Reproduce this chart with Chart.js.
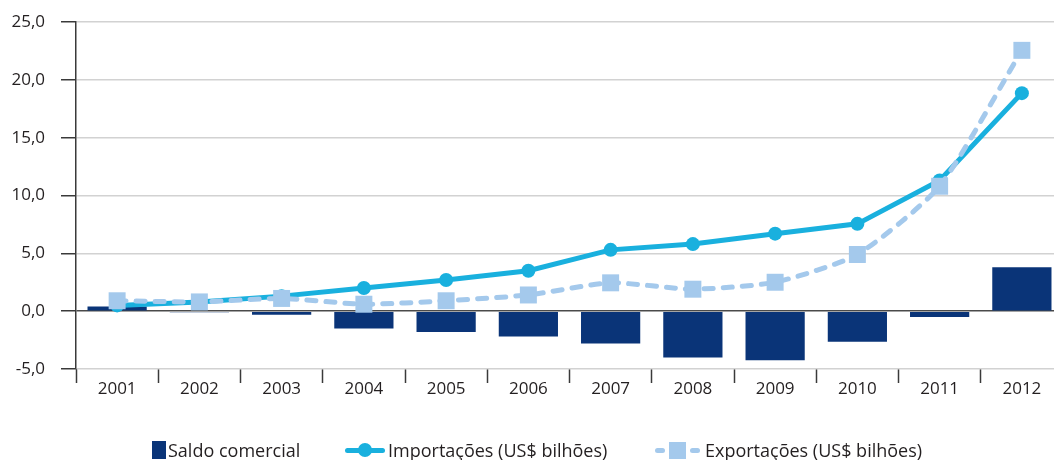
<!DOCTYPE html>
<html>
<head>
<meta charset="utf-8">
<script src="https://cdn.jsdelivr.net/npm/chart.js@4/dist/chart.umd.min.js"></script>
<style>
  body { margin: 0; overflow: hidden; background: #fff; font-family: "Open Sans", sans-serif; }
  #wrap { position: relative; width: 1054px; height: 460px; overflow: hidden; }
  #legend { position: absolute; top: 0; left: 0; width: 1054px; height: 460px; pointer-events: none; }
  .item { position: absolute; top: 439px; height: 22px; font-size: 18px; color: #231f20; line-height: 22px; white-space: nowrap; }
  .ico { position: absolute; }
</style>
</head>
<body>
<div id="wrap">
  <canvas id="myChart" width="1075" height="460"></canvas>
  <div id="legend">
    <div class="item" style="left:152px">
      <span class="ico" style="left:0;top:2px;width:14px;height:18px;background:#0a3478"></span>
      <span style="margin-left:16px">Saldo comercial</span>
    </div>
    <div class="item" style="left:345px">
      <span class="ico" style="left:0;top:9px;width:40px;height:5px;border-radius:3px;background:#19b0de"></span>
      <span class="ico" style="left:13px;top:4px;width:14px;height:14px;border-radius:50%;background:#19b0de"></span>
      <span style="margin-left:43px">Importações (US$ bilhões)</span>
    </div>
    <div class="item" style="left:655px">
      <span class="ico" style="left:0;top:9px;width:10px;height:5px;border-radius:3px;background:#a4c9ec"></span>
      <span class="ico" style="left:14px;top:3px;width:17px;height:17px;background:#a4c9ec"></span>
      <span class="ico" style="left:35px;top:9px;width:10px;height:5px;border-radius:3px;background:#a4c9ec"></span>
      <span style="margin-left:50px">Exportações (US$ bilhões)</span>
    </div>
  </div>
</div>
<script>
// categories and series
let years=['2001','2002','2003','2004','2005','2006','2007','2008','2009','2010','2011','2012'];
let saldo=[0.4,-0.1,-0.3,-1.5,-1.8,-2.2,-2.8,-4.0,-4.25,-2.65,-0.5,3.8];
let importacoes=[0.5,0.8,1.3,2.0,2.7,3.5,5.3,5.8,6.7,7.55,11.3,18.85];
let exportacoes=[0.9,0.8,1.1,0.6,0.9,1.4,2.45,1.9,2.5,4.9,10.8,22.55];
let yTicks=[-5,0,5,10,15,20,25];

const labelFont={family:'"Open Sans", sans-serif',size:17};
const textColor='#231f20';

window.onload=function(){
    drawChart();
}

function drawChart(){
    const ctx=document.getElementById('myChart');
    new Chart(ctx,{
        type:'bar',
        data:{
            labels:years,
            datasets:[
                {
                    label:'Saldo comercial',
                    data:saldo,
                    backgroundColor:'#0a3478',
                    borderWidth:0,
                    barPercentage:0.72,
                    categoryPercentage:1,
                    order:3
                },
                {
                    type:'line',
                    label:'Importações (US$ bilhões)',
                    data:importacoes,
                    borderColor:'#19b0de',
                    backgroundColor:'#19b0de',
                    borderWidth:5,
                    tension:0,
                    pointStyle:'circle',
                    pointRadius:7,
                    pointBorderWidth:0,
                    fill:false,
                    order:2
                },
                {
                    type:'line',
                    label:'Exportações (US$ bilhões)',
                    data:exportacoes,
                    borderColor:'#a4c9ec',
                    backgroundColor:'#a4c9ec',
                    borderWidth:5,
                    borderDash:[9,10],
                    borderCapStyle:'round',
                    tension:0.2,
                    pointStyle:'rect',
                    pointRadius:12,
                    pointBorderWidth:0,
                    fill:false,
                    order:1
                }
            ]
        },
        options:{
            responsive:false,
            animation:false,
            layout:{padding:{top:22,left:0,right:3,bottom:0}},
            plugins:{
                legend:{display:false},
                tooltip:{enabled:false}
            },
            scales:{
                x:{
                    afterFit:function(scale){scale.height=91;},
                    grid:{
                        display:true,
                        offset:true,
                        drawOnChartArea:false,
                        drawTicks:true,
                        tickLength:14,
                        tickColor:'#3a3a3a',
                        tickWidth:1.5
                    },
                    border:{display:false},
                    ticks:{font:labelFont,color:textColor,padding:-4,maxRotation:0}
                },
                y:{
                    min:-5,
                    max:25,
                    afterFit:function(scale){
                        scale.width=76;
                        scale.paddingTop=0;
                        scale.paddingBottom=0;
                    },
                    afterBuildTicks:function(scale){
                        scale.ticks=yTicks.map(function(v){return {value:v};});
                    },
                    grid:{
                        color:function(c){return c.tick && c.tick.value===0 ? '#4a4a4a' : '#d2d2d2';},
                        lineWidth:1.5,
                        drawTicks:true,
                        tickLength:15,
                        tickColor:'#3a3a3a',
                        tickWidth:1.5
                    },
                    border:{display:true,color:'#3a3a3a',width:1.5},
                    ticks:{
                        font:labelFont,
                        color:textColor,
                        padding:16,
                        callback:function(v){return v.toFixed(1).replace('.',',');}
                    }
                }
            }
        }
    });
}
</script>
</body>
</html>
